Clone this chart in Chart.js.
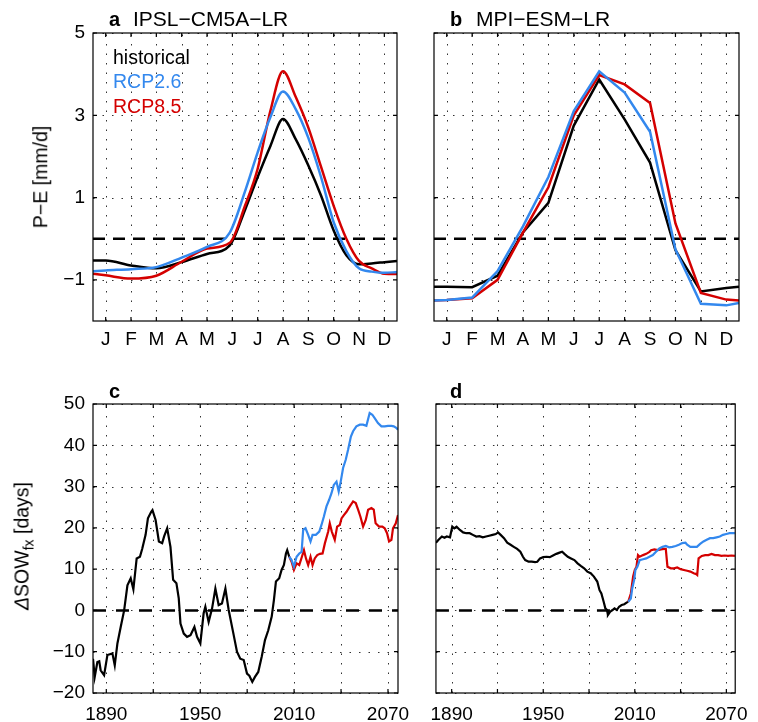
<!DOCTYPE html>
<html>
<head>
<meta charset="utf-8">
<script src="https://cdn.jsdelivr.net/npm/chart.js@4.4.0/dist/chart.umd.min.js"></script>
<style>
  html, body { margin: 0; padding: 0; background: #fff; }
  body { width: 758px; height: 722px; position: relative; overflow: hidden; font-family: "Liberation Sans", Arial, sans-serif; }
  canvas { position: absolute; }
  .txt { position: absolute; white-space: nowrap; line-height: 1; color: #000; z-index: 2; }
  .ttl { font-size: 21px; }
  .tag { font-size: 20px; font-weight: bold; }
  .leg { font-size: 19.5px; }
  .ylab { font-size: 19.5px; transform: translate(-50%, -50%) rotate(-90deg); }
  .ylab sub { font-size: 14px; vertical-align: -5px; }
</style>
</head>
<body>
<canvas id="pa" width="410" height="352" style="left:0;top:0"></canvas>
<canvas id="pb" width="330" height="352" style="left:420px;top:0"></canvas>
<canvas id="pc" width="420" height="352" style="left:0;top:370px"></canvas>
<canvas id="pd" width="338" height="352" style="left:420px;top:370px"></canvas>

<div class="txt tag" style="left:109px;top:9px">a</div>
<div class="txt ttl" style="left:133px;top:8px">IPSL−CM5A−LR</div>
<div class="txt tag" style="left:450px;top:9px">b</div>
<div class="txt ttl" style="left:476px;top:8px">MPI−ESM−LR</div>
<div class="txt tag" style="left:109px;top:381px">c</div>
<div class="txt tag" style="left:450px;top:381px">d</div>

<div class="txt leg" style="left:113px;top:48px;color:#000">historical</div>
<div class="txt leg" style="left:113px;top:72px;color:#3388ee">RCP2.6</div>
<div class="txt leg" style="left:113px;top:97px;color:#d40000">RCP8.5</div>

<div class="txt ylab" style="left:41px;top:177px">P−E [mm/d]</div>
<div class="txt ylab" style="left:24px;top:546px"><span style="font-style:italic">Δ</span>SOW<sub>fx</sub> [days]</div>

<script>
// colours
const colHist = "#000000";
const colRcp26 = "#3388ee";
const colRcp85 = "#d40000";

// --- panels a/b : seasonal cycle of P-E ---
const months = ["J", "F", "M", "A", "M", "J", "J", "A", "S", "O", "N", "D"];
const monthTicks = [0.5, 1.5, 2.5, 3.5, 4.5, 5.5, 6.5, 7.5, 8.5, 9.5, 10.5, 11.5];
const peTicks = [-1, 1, 3, 5];

const seasonXa = [0, 0.5, 1.5, 2.5, 3.5, 4.5, 5.4, 6.0, 6.5, 7.0, 7.5, 8.0, 8.5, 9.0, 9.5, 10.0, 10.5, 11.0, 11.5, 12];
const ipslHist = [-0.53, -0.53, -0.65, -0.72, -0.57, -0.37, -0.16, 0.7, 1.5, 2.25, 2.91, 2.42, 1.78, 1.05, 0.2, -0.4, -0.62, -0.6, -0.57, -0.54];
const ipslRcp26 = [-0.79, -0.77, -0.74, -0.69, -0.46, -0.2, 0.15, 1.15, 2.1, 2.95, 3.58, 3.15, 2.45, 1.5, 0.4, -0.3, -0.72, -0.8, -0.83, -0.81];
const ipslRcp85 = [-0.85, -0.89, -0.97, -0.9, -0.56, -0.24, -0.1, 0.8, 1.7, 3.1, 4.07, 3.45, 2.7, 1.75, 0.8, 0.0, -0.54, -0.72, -0.85, -0.86];

const seasonXb = [0, 0.5, 1.5, 2.5, 3.5, 4.5, 5.5, 6.5, 7.5, 8.5, 9.5, 10.5, 11.5, 12];
const mpiHist = [-1.17, -1.17, -1.18, -0.9, 0.15, 0.87, 2.75, 3.87, 2.9, 1.85, -0.28, -1.28, -1.2, -1.17];
const mpiRcp26 = [-1.5, -1.49, -1.43, -0.79, 0.3, 1.5, 3.1, 4.07, 3.55, 2.6, -0.26, -1.58, -1.62, -1.56];
const mpiRcp85 = [-1.5, -1.49, -1.45, -1.0, 0.15, 1.25, 3.0, 3.98, 3.75, 3.3, 0.37, -1.32, -1.48, -1.5];

// --- panels c/d : change in start of wet season ---
const yearTicks = [1890, 1920, 1950, 1980, 2010, 2040, 2070];
const sowTicks = [-20, -10, 0, 10, 20, 30, 40, 50];

const ipslHistYears = [1881.5, 1882.6, 1884.3, 1885.5, 1886.4, 1888.6, 1890.7, 1893.9, 1895.4, 1897.1, 1899.2, 1901.4, 1903.5, 1905.6, 1907.3, 1909.4, 1911.5, 1913.0, 1915.1, 1916.6, 1918.7, 1919.5, 1921.5, 1923.6, 1925.7, 1927.0, 1928.9, 1931.0, 1932.7, 1934.8, 1936.3, 1937.4, 1939.5, 1941.6, 1943.8, 1946.3, 1948.0, 1950.1, 1952.2, 1953.3, 1955.4, 1957.6, 1959.7, 1961.8, 1963.9, 1966.1, 1968.2, 1971.0, 1973.5, 1975.6, 1977.8, 1979.9, 1981.4, 1983.3, 1985.0, 1987.1, 1989.3, 1991.4, 1993.5, 1995.7, 1997.1, 1998.4, 2000.5, 2002.0, 2003.5, 2004.8, 2005.6, 2006.9];
const ipslHistSow = [-11.7, -16.1, -12.5, -12.3, -14.5, -15.7, -10.8, -10.4, -13.3, -8, -4, 0, 6.1, 7.8, 5.1, 12.6, 13, 15, 18.3, 22.3, 23.9, 24.3, 21.9, 16.7, 16.3, 18, 19.9, 15.4, 7.4, 6.6, 2.9, -3.2, -5.6, -6.4, -6, -4, -6.4, -8, -0.7, 0.9, -2.8, 0.5, 5.3, 1.3, 1.7, 5.3, 0.1, -5.2, -10, -11.7, -12, -15.3, -15.8, -17.3, -16.1, -14.9, -11.2, -7.2, -4.8, -1.5, 2.5, 7, 7.8, 9.8, 11, 13.8, 14.6, 13];

const ipsl26Years = [2006.9, 2008.4, 2009.9, 2011.6, 2013.3, 2014.8, 2015.8, 2017.3, 2019.0, 2020.5, 2021.8, 2023.9, 2026.1, 2027.5, 2029.0, 2030.7, 2032.4, 2033.9, 2035.4, 2037.1, 2038.5, 2039.8, 2041.3, 2043.0, 2044.5, 2046.3, 2047.7, 2049.8, 2052.0, 2054.1, 2056.2, 2058.3, 2060.0, 2061.5, 2063.6, 2065.8, 2067.9, 2070.0, 2072.2, 2073.7, 2075.3, 2076.4];
const ipsl26Sow = [13, 12.2, 10.6, 13, 13.8, 14.2, 19.5, 19.9, 18.3, 16.7, 18.3, 18.3, 19.1, 20.7, 22.7, 25.2, 26.8, 28.4, 30.4, 31.2, 28.8, 31.2, 34.5, 36.5, 38.9, 42.1, 43.4, 44.6, 45, 45, 44.7, 47.8, 47.4, 46.6, 45.4, 44.6, 44.6, 44.7, 44.7, 44.6, 44.2, 43.8];

const ipsl85Years = [2006.9, 2008.4, 2009.9, 2011.6, 2013.3, 2015.0, 2016.3, 2017.6, 2019.0, 2020.5, 2021.8, 2023.2, 2024.8, 2026.5, 2028.2, 2029.7, 2031.8, 2032.8, 2034.1, 2036.0, 2037.5, 2039.2, 2040.3, 2041.8, 2043.5, 2045.6, 2047.7, 2049.4, 2050.9, 2052.4, 2054.1, 2055.8, 2057.3, 2059.4, 2060.9, 2062.1, 2064.3, 2066.4, 2067.9, 2069.4, 2070.7, 2072.2, 2073.2, 2075.0, 2076.4];
const ipsl85Sow = [13, 11.8, 9.8, 11.4, 11, 13, 14.6, 12.6, 11, 13, 11, 12.6, 13.4, 13.7, 13.8, 16.3, 19.1, 21.1, 19.1, 17.1, 20.3, 20.7, 22.3, 23.1, 23.9, 25.2, 26.4, 26, 24.4, 22.7, 20.3, 21.9, 24.4, 24.8, 24.4, 21.1, 20.3, 20.3, 19.9, 18.7, 16.7, 17.1, 19.9, 21.1, 23.1];

const mpiHistYears = [1879.7, 1881.4, 1883.6, 1885.3, 1886.8, 1888.9, 1890.4, 1891.7, 1893.2, 1895.4, 1897.5, 1899.6, 1901.8, 1903.9, 1906.1, 1908.2, 1910.4, 1912.5, 1914.6, 1916.8, 1918.9, 1920.4, 1922.1, 1924.3, 1926.4, 1928.6, 1930.7, 1932.9, 1935.0, 1936.7, 1938.2, 1940.4, 1942.5, 1944.6, 1946.1, 1947.9, 1950.0, 1952.1, 1954.3, 1956.4, 1958.6, 1960.7, 1962.4, 1963.9, 1966.1, 1968.2, 1970.4, 1972.5, 1974.6, 1976.8, 1978.9, 1981.1, 1983.2, 1985.4, 1986.9, 1988.1, 1989.6, 1990.7, 1991.8, 1992.4, 1993.9, 1995.4, 1996.7, 1998.2, 1999.7, 2001.4, 2003.1, 2004.6, 2005.7];
const mpiHistSow = [16.4, 17.1, 17.9, 17.6, 17.9, 17.7, 20.3, 19.9, 20.3, 19.5, 18.9, 18.7, 18.7, 18.3, 17.9, 18, 17.7, 17.9, 18.1, 18.3, 18.5, 18.9, 18.3, 17.5, 16.4, 15.9, 15.4, 14.9, 14.2, 13, 12.2, 11.8, 11.8, 11.7, 11.8, 12.6, 12.9, 13, 12.9, 13.3, 13.7, 14, 14.2, 13.7, 13, 12.6, 12.2, 11.4, 10.8, 10.2, 9.4, 9, 8.2, 7, 4.9, 4.1, 2.1, 0.5, 0.1, -1.1, -0.3, 0.1, 0.5, 0.1, 0.9, 1.3, 1.5, 1.9, 2.1];

const mpi26Years = [2005.7, 2007.4, 2008.3, 2009.6, 2010.4, 2011.7, 2013.2, 2015.4, 2017.5, 2019.6, 2021.8, 2023.9, 2026.1, 2028.2, 2030.3, 2032.5, 2034.6, 2036.8, 2038.9, 2041.1, 2043.2, 2044.3, 2046.4, 2048.6, 2050.7, 2052.8, 2055.0, 2057.1, 2059.3, 2061.4, 2063.6, 2065.7, 2067.8, 2070.0, 2072.1, 2075.6];
const mpi26Sow = [2.1, 2.9, 5.3, 7.4, 9.8, 10.6, 12.2, 12.4, 12.6, 13, 13.4, 14.2, 15, 15.4, 15.6, 15.3, 15.4, 15.6, 15.9, 16.3, 16.4, 15.9, 15.4, 15.4, 15.4, 16.1, 16.7, 17.1, 17.5, 17.5, 17.7, 17.9, 18.3, 18.5, 18.7, 18.7];

const mpi85Years = [2005.7, 2007.4, 2008.9, 2010.0, 2011.1, 2012.1, 2013.2, 2015.4, 2017.5, 2019.6, 2020.7, 2022.8, 2025.0, 2027.1, 2029.3, 2030.3, 2031.4, 2033.6, 2035.7, 2037.8, 2040.0, 2042.1, 2044.3, 2046.4, 2048.6, 2050.3, 2050.9, 2051.8, 2053.9, 2056.1, 2058.2, 2060.3, 2062.5, 2064.6, 2066.8, 2068.9, 2071.1, 2073.2, 2075.6];
const mpi85Sow = [2.1, 4.1, 8.2, 9.8, 10.6, 13.4, 13, 13.4, 13.7, 14.2, 14.6, 14.8, 14.6, 14.8, 14.9, 14.9, 10.6, 10.2, 10.2, 10.4, 10, 9.8, 9.6, 9.4, 9, 8.8, 8.6, 12.6, 13.2, 13.4, 13.4, 13.7, 13.4, 13.4, 13.2, 13.3, 13.2, 13.3, 13.2];

const tickFont = {family: "'Liberation Sans', Arial, sans-serif", size: 19};
const minus = v => String(v).replace("-", "\u2212");

function pts(xs, ys) {
  return xs.map((x, i) => ({x, y: ys[i]}));
}

function series(xs, ys, color, width, smooth) {
  return {
    data: pts(xs, ys),
    borderColor: color,
    borderWidth: width,
    pointRadius: 0,
    fill: false,
    tension: 0,
    cubicInterpolationMode: smooth ? "monotone" : "default",
  };
}

function zeroLine(xMin, xMax, dash) {
  return {
    data: [{x: xMin, y: 0}, {x: xMax, y: 0}],
    borderColor: "#000",
    borderWidth: 2.5,
    borderDash: dash,
    pointRadius: 0,
    fill: false,
  };
}

// MATLAB-like box: dotted grid, closed frame, inward ticks
const boxPlugin = {
  id: "box",
  beforeDatasetsDraw(chart) {
    const {ctx, chartArea: a, scales} = chart;
    ctx.save();
    ctx.strokeStyle = "#333";
    ctx.lineWidth = 1;
    ctx.setLineDash([1.5, 8]);
    scales.x.ticks.forEach(t => {
      const px = Math.round(scales.x.getPixelForValue(t.value)) + 0.5;
      ctx.beginPath();
      ctx.moveTo(px, a.bottom);
      ctx.lineTo(px, a.top);
      ctx.stroke();
    });
    scales.y.ticks.forEach(t => {
      const py = Math.round(scales.y.getPixelForValue(t.value)) + 0.5;
      ctx.beginPath();
      ctx.moveTo(a.left, py);
      ctx.lineTo(a.right, py);
      ctx.stroke();
    });
    ctx.restore();
  },
  afterDatasetsDraw(chart) {
    const {ctx, chartArea: a, scales} = chart;
    const tl = 4;
    ctx.save();
    ctx.strokeStyle = "#000";
    ctx.lineWidth = 1.2;
    ctx.strokeRect(a.left, a.top, a.right - a.left, a.bottom - a.top);
    ctx.beginPath();
    scales.x.ticks.forEach(t => {
      const px = scales.x.getPixelForValue(t.value);
      ctx.moveTo(px, a.bottom); ctx.lineTo(px, a.bottom - tl);
      ctx.moveTo(px, a.top); ctx.lineTo(px, a.top + tl);
    });
    scales.y.ticks.forEach(t => {
      const py = scales.y.getPixelForValue(t.value);
      ctx.moveTo(a.left, py); ctx.lineTo(a.left + tl, py);
      ctx.moveTo(a.right, py); ctx.lineTo(a.right - tl, py);
    });
    ctx.stroke();
    ctx.restore();
  },
};

function panel(id, o) {
  return new Chart(document.getElementById(id), {
    type: "line",
    data: {datasets: o.datasets},
    options: {
      responsive: false,
      animation: false,
      events: [],
      layout: {padding: o.padding},
      plugins: {legend: {display: false}, tooltip: {enabled: false}},
      scales: {
        x: {
          type: "linear",
          min: o.xMin,
          max: o.xMax,
          grid: {display: false, drawTicks: false},
          border: {display: false},
          afterBuildTicks: s => { s.ticks = o.xTicks.map(v => ({value: v})); },
          afterFit: s => { s.height = o.xAxisHeight; },
          ticks: {
            autoSkip: false,
            maxRotation: 0,
            padding: o.xPad,
            color: "#000",
            font: tickFont,
            callback: o.xLabel,
          },
        },
        y: {
          type: "linear",
          min: o.yMin,
          max: o.yMax,
          grid: {display: false, drawTicks: false},
          border: {display: false},
          afterBuildTicks: s => { s.ticks = o.yTicks.map(v => ({value: v})); },
          afterFit: s => { s.width = o.yAxisWidth; },
          ticks: {
            display: o.yLabels,
            padding: 8,
            color: "#000",
            font: tickFont,
            callback: v => minus(v),
          },
        },
      },
    },
    plugins: [boxPlugin],
  });
}

const monthLabel = (v, i) => months[i];
const yearLabel = v => ((v - 1890) % 60 === 0 ? String(v) : "");

panel("pa", {
  datasets: [
    series(seasonXa, ipslRcp26, colRcp26, 2.5, true),
    series(seasonXa, ipslRcp85, colRcp85, 2.5, true),
    series(seasonXa, ipslHist, colHist, 2.5, true),
    zeroLine(0, 12, [12, 8]),
  ],
  padding: {left: 0, top: 33, right: 13, bottom: 0},
  xMin: 0, xMax: 12, xTicks: monthTicks, xLabel: monthLabel, xAxisHeight: 31, xPad: 7,
  yMin: -2, yMax: 5, yTicks: peTicks, yAxisWidth: 93, yLabels: true,
});

panel("pb", {
  datasets: [
    series(seasonXb, mpiRcp26, colRcp26, 2.5, false),
    series(seasonXb, mpiRcp85, colRcp85, 2.5, false),
    series(seasonXb, mpiHist, colHist, 2.5, false),
    zeroLine(0, 12, [12, 8]),
  ],
  padding: {left: 0, top: 33, right: 11, bottom: 0},
  xMin: 0, xMax: 12, xTicks: monthTicks, xLabel: monthLabel, xAxisHeight: 31, xPad: 7,
  yMin: -2, yMax: 5, yTicks: peTicks, yAxisWidth: 14, yLabels: false,
});

panel("pc", {
  datasets: [
    series(ipsl26Years, ipsl26Sow, colRcp26, 2.2, false),
    series(ipsl85Years, ipsl85Sow, colRcp85, 2.2, false),
    series(ipslHistYears, ipslHistSow, colHist, 2.2, false),
    zeroLine(1881.5, 2076.4, [13, 10]),
  ],
  padding: {left: 0, top: 34, right: 22, bottom: 0},
  xMin: 1881.5, xMax: 2076.4, xTicks: yearTicks, xLabel: yearLabel, xAxisHeight: 29, xPad: 10,
  yMin: -20, yMax: 50, yTicks: sowTicks, yAxisWidth: 93, yLabels: true,
});

panel("pd", {
  datasets: [
    series(mpi26Years, mpi26Sow, colRcp26, 2.2, false),
    series(mpi85Years, mpi85Sow, colRcp85, 2.2, false),
    series(mpiHistYears, mpiHistSow, colHist, 2.2, false),
    zeroLine(1879.7, 2075.8, [13, 10]),
  ],
  padding: {left: 0, top: 34, right: 19, bottom: 0},
  xMin: 1879.7, xMax: 2075.8, xTicks: yearTicks, xLabel: yearLabel, xAxisHeight: 29, xPad: 10,
  yMin: -20, yMax: 50, yTicks: sowTicks, yAxisWidth: 14, yLabels: false,
});
</script>
</body>
</html>
